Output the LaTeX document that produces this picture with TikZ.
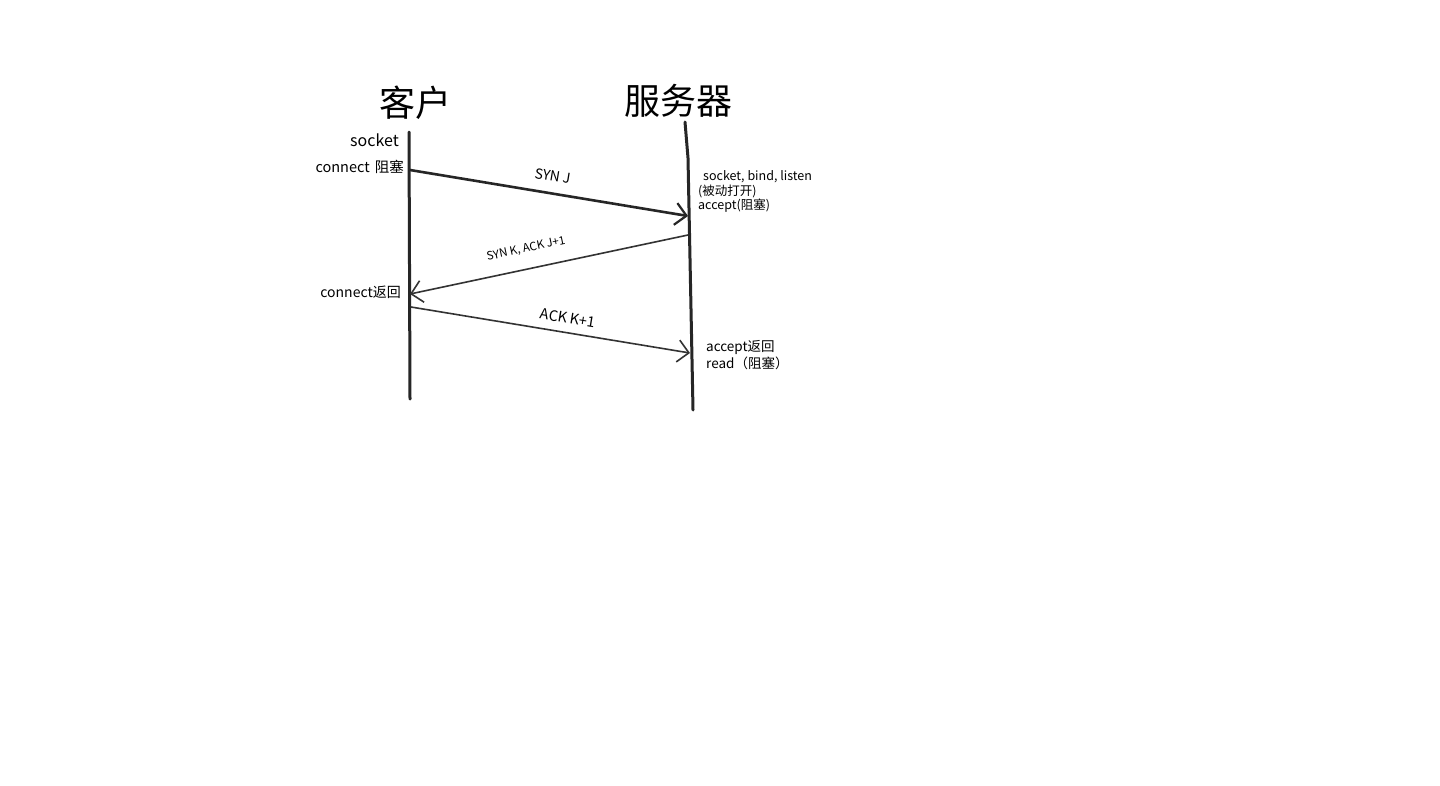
\documentclass[tikz,border=0pt]{standalone}
\usepackage{fontspec}
\setmainfont{Noto Sans CJK SC}
\usetikzlibrary{arrows.meta}
\begin{document}
\begin{tikzpicture}[x=1pt,y=-1pt,
  life/.style={line width=3pt,draw=black!85,line cap=round},
  msg/.style={line width=1.6pt,draw=black!80,-{Straight Barb[length=11pt,width=22pt,line width=1.6pt]}},
  msgthick/.style={line width=2.6pt,draw=black!85,-{Straight Barb[length=11pt,width=22pt,line width=2.2pt]}},
  title/.style={font=\fontsize{36}{40}\selectfont,inner sep=0pt},
  lbl/.style={font=\fontsize{14}{16}\selectfont,inner sep=0pt},
  sml/.style={font=\fontsize{12.5}{14}\selectfont,inner sep=0pt},
]
\useasboundingbox[fill=white] (0,0) rectangle (1440,785);
% lifelines
\coordinate (cTop) at (409,132);
\coordinate (cBot) at (410,399);
\coordinate (sTop) at (685,122);
\coordinate (sMid) at (688,158);
\coordinate (sBot) at (693,410);
\draw[life] (cTop) -- (cBot);
\draw[life] (sTop) -- (sMid) -- (sBot);
% message endpoints
\coordinate (a1) at (410,170);
\coordinate (b1) at (688,216);
\coordinate (b2) at (688,235);
\coordinate (a2) at (410,294);
\coordinate (a3) at (411,307);
\coordinate (b3) at (690,353);
\draw[msgthick] (a1) -- (b1);
\draw[msg] (b2) -- (a2);
\draw[msg] (a3) -- (b3);
% titles
\node[title] (tc) at (415,103) {客户};
\node[title] (ts) at (678,101) {服务器};
% client labels
\node[lbl,anchor=east,font=\fontsize{16}{18}\selectfont] (l1) at (399,140) {socket};
\node[lbl,anchor=east,font=\fontsize{14.5}{16}\selectfont] (l2) at (404,167) {connect\hspace{5pt}阻塞};
\node[lbl,anchor=east] (l3) at (401,292) {connect返回};
% server labels
\node[sml,anchor=west] (r1) at (703,177) {socket, bind, listen};
\node[sml,anchor=west] (r2) at (698,191) {(被动打开)};
\node[sml,anchor=west] (r3) at (698,206) {accept(阻塞)};
\node[lbl,anchor=west,font=\fontsize{13.5}{15}\selectfont] (r4) at (706,347) {accept返回};
\node[lbl,anchor=west,font=\fontsize{13.5}{15}\selectfont] (r5) at (706,363) {read（阻塞）};
% message labels
\node[lbl,rotate=-9.4,font=\fontsize{14}{16}\selectfont\itshape] (m1) at (553,176) {SYN J};
\node[sml,rotate=12,font=\fontsize{11.5}{13}\selectfont] (m2) at (526,249) {SYN K, ACK J+1};
\node[lbl,rotate=-9.4,font=\fontsize{14.5}{16}\selectfont\itshape] (m3) at (568,318) {ACK K+1};
\end{tikzpicture}
\end{document}
